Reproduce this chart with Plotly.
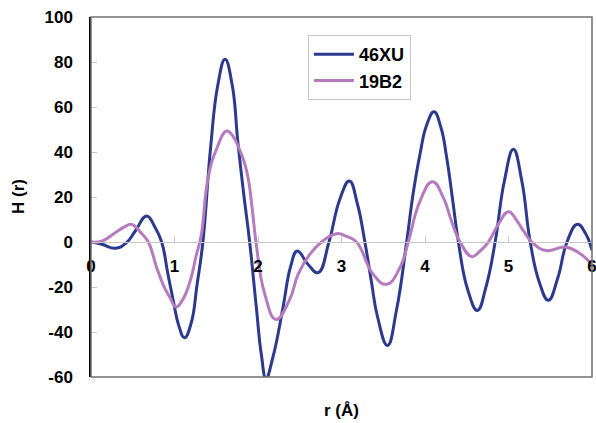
import plotly.graph_objects as go

# 46XU series (r in Å, H(r))
r_46xu = [0, 0.13, 0.29, 0.42, 0.53, 0.667, 0.76, 0.846, 0.92, 0.986, 1.05, 1.12, 1.20,
          1.27, 1.34, 1.43, 1.52, 1.605, 1.69, 1.76, 1.83, 1.90, 1.98, 2.04, 2.096,
          2.18, 2.30, 2.39, 2.47, 2.60, 2.72, 2.85, 2.98, 3.094, 3.19, 3.28, 3.36, 3.43,
          3.55, 3.66, 3.78, 3.86, 3.94, 4.02, 4.108, 4.19, 4.26, 4.33, 4.40, 4.51, 4.627,
          4.73, 4.84, 4.95, 5.058, 5.16, 5.26, 5.37, 5.477, 5.59, 5.70, 5.825, 5.92, 6.0]
h_46xu = [0, -1.0, -2.8, -0.5, 4.9, 11.6, 7, 0, -14, -26.2, -37, -42.6, -36,
          -19, 0, 41, 70, 81.2, 70, 44, 21, 0, -29, -50, -60.5,
          -51, -29, -11, -4, -10, -13.6, 0, 19, 27.1, 17, 0, -18, -33,
          -46, -30, 0, 22, 39, 52, 57.9, 51, 37.5, 19, 0, -21, -30.4,
          -20, 0, 27, 41.2, 27, 0, -18, -25.9, -16, 0, 7.9, 4, -3.7]

# 19B2 series
r_19b2 = [0, 0.13, 0.29, 0.39, 0.487, 0.60, 0.686, 0.787, 0.87, 0.946, 1.018, 1.10,
          1.19, 1.26, 1.32, 1.40, 1.50, 1.625, 1.70, 1.78, 1.84, 1.884, 1.93, 1.976, 2.08,
          2.216, 2.38, 2.48, 2.62, 2.76, 2.94, 3.06, 3.18, 3.38, 3.54, 3.70, 3.80, 3.94,
          4.09, 4.22, 4.32, 4.42, 4.56, 4.66, 4.76, 4.88, 5.0, 5.10, 5.18, 5.28, 5.45,
          5.68, 5.85, 6.0]
h_19b2 = [0, 0.4, 4.1, 6.5, 7.8, 4, 0, -11.4, -19.5, -24.7, -28.9, -25.5,
          -17, -6, 3, 28, 41, 49.3, 47, 41, 35, 28, 15, 0, -23,
          -34.4, -25.5, -14.4, -5.5, 0, 3.7, 2.5, 0, -14.4, -18.8, -11.4, 0, 18.2,
          26.8, 19.7, 9, 0, -6.5, -4, 0, 8, 13.5, 9.5, 4.9, 0, -3.8,
          -2.2, -5, -10]

x_ticks = [0, 1, 2, 3, 4, 5, 6]
y_ticks = [-60, -40, -20, 0, 20, 40, 60, 80, 100]

BLUE = "#2B3A8F"
PINK = "#B57BBE"
FONT = "Liberation Sans, Arial, sans-serif"

fig = go.Figure()
fig.add_trace(go.Scatter(x=r_46xu, y=h_46xu, mode="lines", name="<b>46XU</b>",
                         line=dict(color=BLUE, width=3, shape="spline", smoothing=1.3)))
fig.add_trace(go.Scatter(x=r_19b2, y=h_19b2, mode="lines", name="<b>19B2</b>",
                         line=dict(color=PINK, width=3, shape="spline", smoothing=1.3)))

fig.update_layout(
    width=596, height=423,
    margin=dict(l=91, r=4, t=17, b=46),
    paper_bgcolor="white", plot_bgcolor="white",
    font=dict(family=FONT, size=16, color="black"),
    showlegend=True,
    legend=dict(x=0.433, y=0.95, xanchor="left", yanchor="top",
                bordercolor="#C8C8C8", borderwidth=1, bgcolor="white",
                font=dict(family=FONT, size=18, color="black"),
                tracegroupgap=0, itemwidth=40),
    xaxis=dict(range=[0, 6], tickmode="array", tickvals=x_ticks,
               ticktext=[f"<b>{v}</b>" for v in x_ticks],
               anchor="free", position=0.375, automargin=False,
               showgrid=False, zeroline=False,
               showline=True, linecolor="#C8C8C8", linewidth=1,
               ticks="inside", ticklen=6, tickcolor="#C8C8C8",
               ticklabelstandoff=9, ticklabeloverflow="allow",
               tickfont=dict(family=FONT, size=17, color="black")),
    yaxis=dict(range=[-60, 100], tickmode="array", tickvals=y_ticks,
               ticktext=[f"<b>{v}</b>" for v in y_ticks],
               automargin=False,
               showgrid=False, zeroline=False,
               showline=True, linecolor="black", linewidth=1.5,
               ticks="inside", ticklen=6, tickcolor="#C8C8C8",
               ticklabelstandoff=13,
               tickfont=dict(family=FONT, size=17, color="black")),
    shapes=[dict(type="rect", xref="x domain", yref="y domain", x0=0, x1=1, y0=0, y1=1,
                 line=dict(color="#707070", width=1.5), layer="above")],
    annotations=[
        dict(text="<b>r (Å)</b>", xref="paper", yref="paper", x=0.5, y=0,
             yshift=-33, xanchor="center", yanchor="middle", showarrow=False,
             font=dict(family=FONT, size=17, color="black")),
        dict(text="<b>H (r)</b>", xref="paper", yref="paper", x=0, y=0.5,
             xshift=-73, xanchor="center", yanchor="middle", showarrow=False,
             textangle=-90, font=dict(family=FONT, size=17, color="black")),
    ],
)

fig.write_html("out.html", config={"displayModeBar": False},
               post_script="document.body.style.margin='0';document.body.style.padding='0';")
